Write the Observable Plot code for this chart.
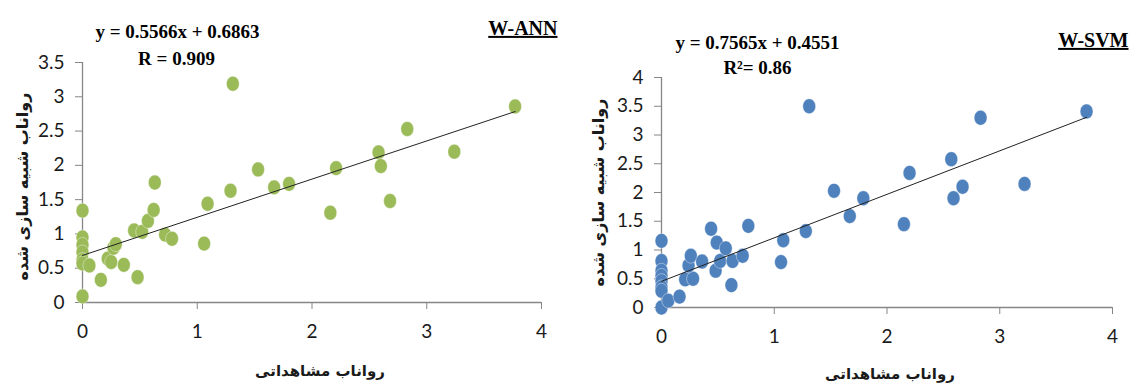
<!DOCTYPE html>
<html>
<head>
<meta charset="utf-8">
<script src="https://cdn.jsdelivr.net/npm/d3@7"></script>
<script src="https://cdn.jsdelivr.net/npm/@observablehq/plot@0.6"></script>
<style>
  html, body { margin: 0; padding: 0; background: #fff; }
  #wrap { display: flex; width: 1136px; height: 387px; }
  #wrap > div { width: 568px; height: 387px; }
  svg { display: block; }
</style>
</head>
<body>
<div id="wrap"><div id="ann"></div><div id="svm"></div></div>
<script>
// ---- Data ----
const annObserved  = [0, 0, 0, 0, 0, 0, 0, 0.06, 0.16, 0.22, 0.25, 0.27, 0.29, 0.36, 0.48, 0.45, 0.52, 0.57, 0.62, 0.63, 0.72, 0.78, 1.06, 1.09, 1.29, 1.31, 1.53, 1.67, 1.80, 2.16, 2.21, 2.58, 2.60, 2.68, 2.83, 3.24, 3.77];
const annSimulated = [1.34, 0.95, 0.84, 0.73, 0.62, 0.57, 0.09, 0.54, 0.33, 0.64, 0.59, 0.80, 0.85, 0.55, 0.37, 1.05, 1.03, 1.19, 1.35, 1.75, 0.99, 0.93, 0.86, 1.44, 1.63, 3.19, 1.94, 1.68, 1.73, 1.31, 1.96, 2.19, 1.99, 1.48, 2.53, 2.20, 2.86];

const svmObserved  = [0, 0, 0, 0, 0, 0, 0, 0, 0.06, 0.16, 0.21, 0.28, 0.24, 0.26, 0.36, 0.44, 0.48, 0.49, 0.52, 0.57, 0.62, 0.63, 0.72, 0.77, 1.06, 1.08, 1.28, 1.31, 1.53, 1.67, 1.79, 2.15, 2.20, 2.57, 2.59, 2.67, 2.83, 3.22, 3.77];
const svmSimulated = [1.16, 0.81, 0.64, 0.55, 0.46, 0.35, 0.29, 0.00, 0.12, 0.19, 0.49, 0.50, 0.73, 0.90, 0.80, 1.37, 0.64, 1.13, 0.81, 1.03, 0.39, 0.81, 0.90, 1.42, 0.79, 1.17, 1.33, 3.50, 2.03, 1.59, 1.90, 1.45, 2.34, 2.58, 1.90, 2.10, 3.30, 2.15, 3.41];

const annFit = { slope: 0.5566, intercept: 0.6863 };
const svmFit = { slope: 0.7565, intercept: 0.4551 };

const xTicks = [0, 1, 2, 3, 4];
const annYTicks = [0, 0.5, 1, 1.5, 2, 2.5, 3, 3.5];
const svmYTicks = [0, 0.5, 1, 1.5, 2, 2.5, 3, 3.5, 4];

const annTitle = "W-ANN";
const svmTitle = "W-SVM";
const annEquation = "y = 0.5566x + 0.6863";
const annStat = "R = 0.909";
const svmEquation = "y = 0.7565x + 0.4551";
const svmStat = "R\u00B2= 0.86";
const xTitle = "رواناب مشاهداتی";
const yTitle = "رواناب شبیه سازی شده";

// ---- Styling ----
const axisGrey = "#868686";
const tickFont = "Lato, 'Open Sans', sans-serif";
const serif = "'Liberation Serif', 'DejaVu Serif', serif";
const persian = "'DejaVu Sans', sans-serif";

// elliptical marker (Excel-style, slightly tall)
const ellipse = {
  draw(ctx) {
    const rx = 6.4, ry = 7.4, k = 0.5523;
    ctx.moveTo(rx, 0);
    ctx.bezierCurveTo(rx, ry * k, rx * k, ry, 0, ry);
    ctx.bezierCurveTo(-rx * k, ry, -rx, ry * k, -rx, 0);
    ctx.bezierCurveTo(-rx, -ry * k, -rx * k, -ry, 0, -ry);
    ctx.bezierCurveTo(rx * k, -ry, rx, -ry * k, rx, 0);
    ctx.closePath();
  }
};

function chart(cfg) {
  const pts = cfg.obs.map((o, i) => ({ obs: o, sim: cfg.sim[i] }));
  const [x0, x1] = d3.extent(cfg.obs);
  const fitLine = [x0, x1].map(x => ({ obs: x, sim: cfg.fit.slope * x + cfg.fit.intercept }));
  const svg = Plot.plot({
    width: 568,
    height: 387,
    marginLeft: cfg.m.left,
    marginRight: cfg.m.right,
    marginTop: cfg.m.top,
    marginBottom: cfg.m.bottom,
    style: { background: "#fff", overflow: "visible" },
    x: { domain: [0, 4] },
    y: { domain: cfg.yDomain },
    marks: [
      Plot.axisX({ ticks: xTicks, tickSize: 7, tickPadding: 15, stroke: axisGrey, fill: "#1a1a1a",
                   fontSize: 19, fontFamily: tickFont, label: null, tickFormat: d => String(d) }),
      Plot.axisY({ ticks: cfg.yTicks, tickSize: 7, tickPadding: 11, stroke: axisGrey, fill: "#1a1a1a",
                   fontSize: 19, fontFamily: tickFont, label: null, tickFormat: d => String(d) }),
      Plot.ruleY([0], { stroke: axisGrey, strokeWidth: 1.3 }),
      Plot.ruleX([0], { stroke: axisGrey, strokeWidth: 1.3 }),
      Plot.dot(pts, { x: "obs", y: "sim", symbol: ellipse, fill: cfg.color, stroke: "#fff", strokeWidth: 0.4 }),
      Plot.line(fitLine, { x: "obs", y: "sim", stroke: "#222", strokeWidth: 1 }),
      Plot.text([cfg.equation], { frameAnchor: "top-left", dx: cfg.eq.dx, dy: cfg.eq.dy, textAnchor: "middle",
                 lineAnchor: "middle", fontFamily: serif, fontWeight: "bold", fontSize: 19, fill: "#000" }),
      Plot.text([cfg.stat], { frameAnchor: "top-left", dx: cfg.st.dx, dy: cfg.st.dy, textAnchor: "middle",
                 lineAnchor: "middle", fontFamily: serif, fontWeight: "bold", fontSize: 19, fill: "#000" }),
      Plot.text([cfg.title], { frameAnchor: "top-right", dx: cfg.ti.dx, dy: cfg.ti.dy, textAnchor: "end",
                 lineAnchor: "middle", fontFamily: serif, fontWeight: "bold", fontSize: 20, fill: "#000" }),
      Plot.text([xTitle], { frameAnchor: "bottom", dx: cfg.xt.dx, dy: cfg.xt.dy, textAnchor: "middle", lineAnchor: "middle",
                 fontFamily: persian, fontWeight: "bold", fontSize: 15, fill: "#1a1a1a" }),
      Plot.text([yTitle], { frameAnchor: "left", dx: cfg.yt.dx, dy: cfg.yt.dy, rotate: -90, textAnchor: "middle",
                 lineAnchor: "middle", fontFamily: persian, fontWeight: "bold", fontSize: 16, fill: "#1a1a1a" })
    ]
  });
  d3.select(svg).selectAll("text").filter(function () { return this.textContent === cfg.title; })
    .style("text-decoration", "underline");
  return svg;
}

document.getElementById("ann").appendChild(chart({
  obs: annObserved, sim: annSimulated, fit: annFit, color: "#9BBB59",
  yDomain: [0, 3.5], yTicks: annYTicks,
  m: { left: 82, right: 27, top: 62, bottom: 85 },
  equation: annEquation, stat: annStat, title: annTitle,
  eq: { dx: 95, dy: -31 }, st: { dx: 94, dy: -4 }, ti: { dx: 16, dy: -34 },
  xt: { dx: 8, dy: 69 }, yt: { dx: -60, dy: 4 }
}));

document.getElementById("svm").appendChild(chart({
  obs: svmObserved, sim: svmSimulated, fit: svmFit, color: "#4F81BD",
  yDomain: [0, 4], yTicks: svmYTicks,
  m: { left: 93, right: 24, top: 77, bottom: 80 },
  equation: svmEquation, stat: svmStat, title: svmTitle,
  eq: { dx: 96, dy: -35 }, st: { dx: 96, dy: -10 }, ti: { dx: 16, dy: -37 },
  xt: { dx: 3, dy: 67 }, yt: { dx: -63, dy: 0 }
}));
</script>
</body>
</html>
